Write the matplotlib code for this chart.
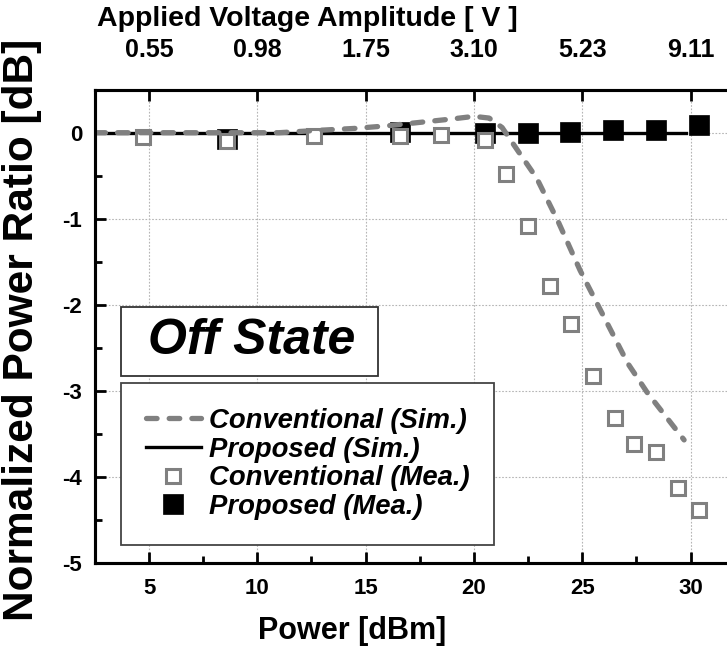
"""
Off-state normalized power ratio vs. input power (conventional vs proposed).
"""

import matplotlib
matplotlib.use("Agg")
import matplotlib.pyplot as plt
from matplotlib.patches import Rectangle
from matplotlib.ticker import MultipleLocator

plt.rcParams["font.family"] = ["Liberation Sans", "DejaVu Sans"]
plt.rcParams["font.weight"] = "bold"
plt.rcParams["axes.unicode_minus"] = False

# ── Data ───────────────────────────────────────────────────────
conv_sim_x = [2.5, 5, 8, 11, 13, 14.5, 16, 17.5, 19, 20, 20.7, 21.3,
              22.0, 22.9, 23.9, 24.9, 26.0, 27.1, 28.0, 29.7]
conv_sim_y = [0, 0, 0, 0, 0.03, 0.05, 0.08, 0.12, 0.16, 0.19, 0.17, 0.06,
              -0.2, -0.53, -1.04, -1.6, -2.14, -2.68, -3.02, -3.57]

prop_sim_x = [2.5, 10, 20, 29.8]
prop_sim_y = [0, 0, 0, 0]

conv_mea_x = [4.7, 8.6, 12.6, 16.6, 18.5, 20.5, 21.5, 22.5, 23.5, 24.5,
              25.5, 26.5, 27.4, 28.4, 29.4, 30.4]
conv_mea_y = [-0.05, -0.10, -0.04, -0.04, -0.03, -0.08, -0.48, -1.08,
              -1.78, -2.22, -2.83, -3.32, -3.62, -3.71, -4.13, -4.39]

prop_mea_x = [8.6, 16.6, 20.5, 22.5, 24.45, 26.4, 28.4, 30.4]
prop_mea_y = [-0.07, 0.01, 0.0, 0.0, 0.01, 0.03, 0.03, 0.09]

power_ticks = [5, 10, 15, 20, 25, 30]
volt_labels = ["0.55", "0.98", "1.75", "3.10", "5.23", "9.11"]
y_ticks = [0, -1, -2, -3, -4, -5]

GRAY = "#808080"

fig = plt.figure(figsize=(7.27, 6.56), dpi=100)
ax = fig.add_axes([0.1305, 0.1418, 0.879, 0.7215])

ax.plot(prop_sim_x, prop_sim_y, color="black", lw=2.4, zorder=2,
        label="Proposed (Sim.)")
ax.plot(prop_mea_x, prop_mea_y, ls="none", marker="s", ms=15, mfc="black",
        mec="black", mew=0.5, zorder=3, label="Proposed (Mea.)")
ax.plot(conv_mea_x, conv_mea_y, ls="none", marker="s", ms=10, mfc="white",
        mec=GRAY, mew=2.2, zorder=4, label="Conventional (Mea.)")
ax.plot(conv_sim_x, conv_sim_y, color=GRAY, lw=3.8, dashes=(2.0, 2.3),
        dash_capstyle="round", zorder=5, label="Conventional (Sim.)")

ax.set_xlim(2.5, 32)
ax.set_ylim(-5, 0.5)
ax.set_xticks(power_ticks)
ax.set_yticks(y_ticks)
ax.xaxis.set_minor_locator(MultipleLocator(2.5))
ax.yaxis.set_minor_locator(MultipleLocator(0.5))
ax.tick_params(which="both", direction="in", width=2, top=False, right=False)
ax.tick_params(which="major", length=8, labelsize=16)
ax.tick_params(axis="x", which="major", pad=11)
ax.tick_params(axis="y", which="major", pad=9)
ax.tick_params(which="minor", length=5)
ax.grid(which="major", color="#b5b5b5", ls=(0, (1.5, 1.5)), lw=0.8)
ax.set_axisbelow(True)
for s in ax.spines.values():
    s.set_linewidth(2.2)

ax.set_xlabel("Power [dBm]", fontsize=22, fontweight="bold")
ax.xaxis.set_label_coords(0.402, -0.112)
ax.set_ylabel("Normalized Power Ratio [dB]", fontsize=30.5,
              fontweight="bold")
ax.yaxis.set_label_coords(-0.082, 0.492)

# ── Top axis: applied voltage ──────────────────────────────────
ax2 = ax.twiny()
ax2.set_xlim(ax.get_xlim())
ax2.set_xticks(power_ticks)
ax2.set_xticklabels(volt_labels)
ax2.tick_params(which="major", direction="in", length=8, width=2,
                labelsize=18, pad=20)
for s in ax2.spines.values():
    s.set_linewidth(2.2)
ax2.set_xlabel("Applied Voltage Amplitude [ V ]", fontsize=20.5,
               fontweight="bold")
ax2.xaxis.set_label_coords(0.332, 1.135)

# ── Annotation box and legend ──────────────────────────────────
ax.add_patch(Rectangle((0.041, 0.395), 0.402, 0.146, transform=ax.transAxes,
                       fc="white", ec="#333333", lw=1.3, zorder=6))
ax.text(0.246, 0.468, "Off State", transform=ax.transAxes, fontsize=36,
        fontweight="bold", style="italic", ha="center", va="center",
        zorder=7)

handles, labels = ax.get_legend_handles_labels()
order = [3, 0, 2, 1]
leg = ax.legend([handles[i] for i in order], [labels[i] for i in order],
                loc="upper left", bbox_to_anchor=(0.041, 0.38),
                borderaxespad=0, fancybox=False, framealpha=1,
                edgecolor="#444444", handlelength=2.0, handletextpad=0.3,
                labelspacing=0.1, borderpad=0.9,
                prop={"size": 19.8, "weight": "bold", "style": "italic"})
leg.get_frame().set_linewidth(1.3)
leg.set_zorder(8)

plt.savefig("out.png", dpi=100)
plt.close()
